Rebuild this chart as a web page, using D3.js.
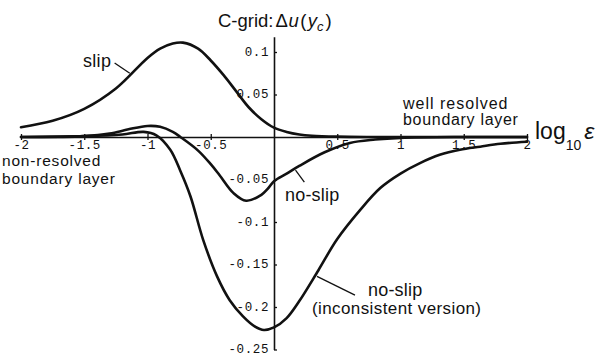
<!DOCTYPE html>
<html>
<head>
<meta charset="utf-8">
<script src="https://cdn.jsdelivr.net/npm/d3@7"></script>
<style>
  html, body { margin: 0; padding: 0; background: #fff; }
  svg { display: block; }
  .lbl { font-family: "Liberation Sans", Arial, sans-serif; fill: #111; }
</style>
</head>
<body>
<svg id="chart" width="599" height="356"></svg>
<script>
// log10(epsilon) sample positions and the velocity error Δu(y_c) for each run
const xSlip = [-2, -1.75, -1.5, -1.25, -1, -0.9, -0.8, -0.72, -0.6, -0.5, -0.4, -0.3, -0.2, -0.1, 0, 0.1, 0.2, 0.3, 0.5, 0.75, 1, 1.5, 2];
const slip  = [0.0115, 0.019, 0.033, 0.057, 0.093, 0.104, 0.110, 0.111, 0.104, 0.090, 0.073, 0.054, 0.035, 0.021, 0.011, 0.006, 0.003, 0.0015, 0.0004, 0, 0, 0, 0];

const xNoSlip = [-2, -1.5, -1.3, -1.15, -1.0, -0.9, -0.8, -0.74, -0.6, -0.5, -0.43, -0.32, -0.22, -0.1, -0.05, 0, 0.1, 0.2, 0.4, 0.6, 0.8, 1.0, 1.5, 2];
const noSlip  = [0, 0.001, 0.004, 0.009, 0.013, 0.012, 0.006, 0, -0.016, -0.032, -0.045, -0.066, -0.075, -0.068, -0.061, -0.052, -0.043, -0.034, -0.018, -0.007, -0.003, -0.001, 0, 0];

const xIncons = [-2, -1.5, -1.2, -1.03, -0.93, -0.82, -0.74, -0.66, -0.56, -0.45, -0.35, -0.245, -0.15, -0.08, 0, 0.1, 0.2, 0.35, 0.5, 0.68, 0.84, 1.0, 1.15, 1.31, 1.47, 1.63, 1.79, 2];
const noSlipIncons = [0, 0.001, 0.003, 0.006, 0.002, -0.015, -0.040, -0.070, -0.121, -0.164, -0.192, -0.211, -0.223, -0.227, -0.224, -0.213, -0.193, -0.157, -0.120, -0.086, -0.060, -0.043, -0.031, -0.021, -0.015, -0.0114, -0.008, -0.0055];

const xTicks = [-2, -1.5, -1, -0.5, 0.5, 1, 1.5, 2];
const yTicks = [0.1, 0.05, -0.05, -0.1, -0.15, -0.2, -0.25];

const svg = d3.select("#chart");
const x = d3.scaleLinear().domain([-2, 2]).range([21, 527]);
const y = d3.scaleLinear().domain([-0.25, 0]).range([349.5, 137]);
const yTop = 0.118;

const monoFont = "'Liberation Mono', 'DejaVu Sans Mono', monospace";

// axes crossing at the origin
const xAxis = d3.axisBottom(x).tickValues(xTicks).tickSizeInner(3).tickSizeOuter(0)
  .tickFormat(d => String(d));
const gx = svg.append("g").attr("transform", `translate(0,${y(0)})`).call(xAxis)
  .attr("font-family", monoFont).attr("font-size", 12.5);
gx.select(".domain").attr("stroke", "#111").attr("stroke-width", 1.6);
gx.selectAll(".tick line").attr("y1", -3).attr("stroke", "#111").attr("stroke-width", 1.3);
gx.selectAll(".tick text").attr("dy", "0.9em").attr("y", 1).attr("fill", "#111").attr("letter-spacing", 0.6);

const yAxis = d3.axisLeft(y.copy().domain([-0.25, yTop]).range([349.5, y(yTop)]))
  .tickValues(yTicks).tickSizeInner(3).tickSizeOuter(0).tickFormat(d => String(d));
const gy = svg.append("g").attr("transform", `translate(${x(0)},0)`).call(yAxis)
  .attr("font-family", monoFont).attr("font-size", 12.5);
gy.select(".domain").attr("stroke", "#111").attr("stroke-width", 1.6);
gy.selectAll(".tick line").attr("x2", 3).attr("stroke", "#111").attr("stroke-width", 1.3);
gy.selectAll(".tick text").attr("x", -5).attr("dy", "0.25em").attr("fill", "#111").attr("letter-spacing", 0.6);

// curves
const line = d3.line().x(d => x(d[0])).y(d => y(d[1])).curve(d3.curveCatmullRom.alpha(0.5));
const series = [
  d3.zip(xSlip, slip),
  d3.zip(xNoSlip, noSlip),
  d3.zip(xIncons, noSlipIncons)
];
svg.append("g").selectAll("path").data(series).join("path")
  .attr("d", line).attr("fill", "none").attr("stroke", "#111")
  .attr("stroke-width", 2.6).attr("stroke-linejoin", "round").attr("stroke-linecap", "round");

// leader lines (data units)
const leaders = [
  [[-1.26, 0.087], [-1.14, 0.075]],
  [[0.17, -0.039], [0.24, -0.053]],
  [[0.34, -0.164], [0.64, -0.186]]
];
svg.append("g").selectAll("line").data(leaders).join("line")
  .attr("x1", d => x(d[0][0])).attr("y1", d => y(d[0][1]))
  .attr("x2", d => x(d[1][0])).attr("y2", d => y(d[1][1]))
  .attr("stroke", "#111").attr("stroke-width", 1.3);

// labels
function label(tx, ty, str, size, spacing) {
  return svg.append("text").attr("class", "lbl").attr("x", tx).attr("y", ty)
    .attr("font-size", size).attr("letter-spacing", spacing || 0).text(str);
}
label(83, 67, "slip", 18, 0.3);
label(285, 201, "no-slip", 18, 0.2);
label(368, 296, "no-slip", 18, 0.2);
label(312, 314, "(inconsistent version)", 17, 0.4);
label(403, 109, "well resolved", 16, 1.0);
label(403, 125, "boundary layer", 16, 0.7);
label(2, 166, "non-resolved", 15.5, 0.8);
label(2, 184, "boundary layer", 15.5, 0.8);

// title
const t = svg.append("text").attr("class", "lbl").attr("x", 218).attr("y", 27).attr("font-size", 18.5);
t.append("tspan").text("C-grid:");
t.append("tspan").attr("dx", 2).text("Δ");
t.append("tspan").attr("font-style", "italic").attr("dx", 0.5).text("u");
t.append("tspan").attr("dx", 1.5).text("(");
t.append("tspan").attr("font-style", "italic").attr("dx", 1.5).text("y");
t.append("tspan").attr("font-size", 13).attr("font-style", "italic").attr("dy", 4).text("c");
t.append("tspan").attr("dy", -4).attr("dx", 2).text(")");

// x-axis title: log10 ε
const xl = svg.append("text").attr("class", "lbl").attr("x", 535).attr("y", 139).attr("font-size", 23);
xl.append("tspan").text("log");
xl.append("tspan").attr("font-size", 14).attr("dy", 11).text("10");
xl.append("tspan").attr("dy", -11).attr("dx", 3).attr("font-style", "italic").text("ε");
</script>
</body>
</html>
